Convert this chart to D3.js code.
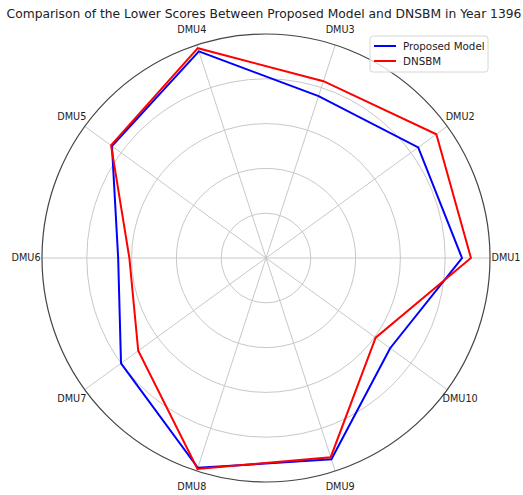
<!DOCTYPE html>
<html>
<head>
<meta charset="utf-8">
<script src="https://cdn.jsdelivr.net/npm/d3@7"></script>
<style>
  body { margin: 0; background: #fff; }
  svg { display: block; font-family: "DejaVu Sans", sans-serif; }
</style>
</head>
<body>
<div id="chart"></div>
<script>
// --- data ---
const categories = ["DMU1", "DMU2", "DMU3", "DMU4", "DMU5", "DMU6", "DMU7", "DMU8", "DMU9", "DMU10"];
const proposed = [0.875, 0.84, 0.76, 0.97, 0.85, 0.66, 0.80, 0.985, 0.945, 0.685];
const dnsbm = [0.915, 0.94, 0.83, 0.985, 0.855, 0.61, 0.705, 0.99, 0.935, 0.605];
const radialTicks = [0.2, 0.4, 0.6, 0.8];
const seriesNames = ["Proposed Model", "DNSBM"];
const seriesColors = ["#0000ff", "#ff0000"];

const width = 523, height = 495;
const cx = 266, cy = 258, R = 224;

const svg = d3.select("#chart").append("svg")
    .attr("width", width)
    .attr("height", height);

// title
svg.append("text")
    .attr("x", 264)
    .attr("y", 18)
    .attr("text-anchor", "middle")
    .attr("font-size", 12.3)
    .attr("fill", "#222")
    .text("Comparison of the Lower Scores Between Proposed Model and DNSBM in Year 1396");

const g = svg.append("g").attr("transform", `translate(${cx},${cy})`);

const r = d3.scaleLinear().domain([0, 1]).range([0, R]);
// category index -> d3 radial angle (clockwise from 12 o'clock), data runs counter-clockwise from east
const angle = d3.scaleLinear().domain([0, categories.length]).range([Math.PI / 2, Math.PI / 2 - 2 * Math.PI]);

// grid circles
g.selectAll(".ring")
    .data(radialTicks)
    .enter().append("circle")
    .attr("r", d => r(d))
    .attr("fill", "none")
    .attr("stroke", "#c8c8c8")
    .attr("stroke-width", 1);

// spokes
g.selectAll(".spoke")
    .data(categories)
    .enter().append("line")
    .attr("x1", 0).attr("y1", 0)
    .attr("x2", (d, i) => r(1) * Math.sin(angle(i)))
    .attr("y2", (d, i) => -r(1) * Math.cos(angle(i)))
    .attr("stroke", "#c8c8c8")
    .attr("stroke-width", 1);

// outer spine
g.append("circle")
    .attr("r", r(1))
    .attr("fill", "none")
    .attr("stroke", "#444")
    .attr("stroke-width", 1.2);

// category labels
g.selectAll(".lab")
    .data(categories)
    .enter().append("text")
    .attr("x", (d, i) => 240 * Math.sin(angle(i)))
    .attr("y", (d, i) => -240 * Math.cos(angle(i)))
    .attr("dy", "0.35em")
    .attr("text-anchor", "middle")
    .attr("font-size", 9.7)
    .attr("fill", "#222")
    .text(d => d);

// series
const line = d3.lineRadial()
    .angle((d, i) => angle(i))
    .radius(d => r(d))
    .curve(d3.curveLinearClosed);

[proposed, dnsbm].forEach((vals, k) => {
    g.append("path")
        .attr("d", line(vals))
        .attr("fill", "none")
        .attr("stroke", seriesColors[k])
        .attr("stroke-width", 2)
        .attr("stroke-linejoin", "miter");
});

// legend
const lg = svg.append("g").attr("transform", "translate(370,36)");
lg.append("rect")
    .attr("width", 118).attr("height", 36)
    .attr("rx", 3)
    .attr("fill", "#fff")
    .attr("fill-opacity", 0.8)
    .attr("stroke", "#d6d6d6");
seriesNames.forEach((name, k) => {
    const y = 10 + k * 15;
    lg.append("line")
        .attr("x1", 4).attr("x2", 26)
        .attr("y1", y).attr("y2", y)
        .attr("stroke", seriesColors[k])
        .attr("stroke-width", 2);
    lg.append("text")
        .attr("x", 33).attr("y", y)
        .attr("dy", "0.35em")
        .attr("font-size", 10.3)
        .attr("fill", "#222")
        .text(name);
});
</script>
</body>
</html>
